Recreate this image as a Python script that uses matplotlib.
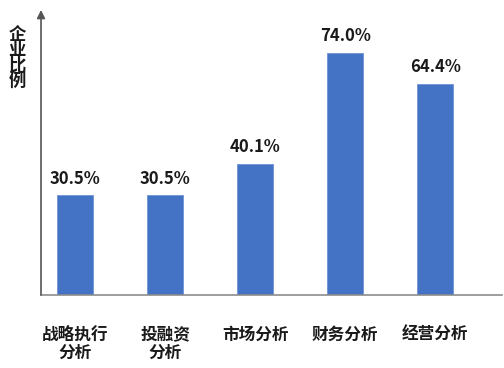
import numpy as np
import matplotlib.pyplot as plt

plt.rcParams['font.family'] = ['Noto Sans CJK SC', 'DejaVu Sans']

categories = ['战略执行\n分析', '投融资\n分析', '市场分析', '财务分析', '经营分析']
values = [30.5, 30.5, 40.1, 74.0, 64.4]
ylabel_text = '企\n业\n比\n例'

fig = plt.figure(figsize=(5.04, 3.68), dpi=100)
ax = fig.add_axes([41 / 504, 73 / 368, 461 / 504, 285 / 368])

x = np.arange(len(categories))
ax.bar(x, values, width=0.4, color='#4472C4', edgecolor='#6f93d6', linewidth=0.6)

for xi, v in zip(x, values):
    ax.text(xi, v + 2.3, '%.1f%%' % v, ha='center', va='bottom',
            fontsize=12, fontweight='heavy', color='#1a1a1a')

ax.set_xlim(-0.378, 4.74)
ax.set_ylim(0, 87)

for s in ['top', 'right', 'left']:
    ax.spines[s].set_visible(False)
ax.spines['bottom'].set_color('#8c8c8c')
ax.spines['bottom'].set_linewidth(1.2)

# y axis with arrow
ax.annotate('', xy=(0, 1.0), xycoords='axes fraction', xytext=(0, 0),
            arrowprops=dict(arrowstyle='-|>', color='#555555', lw=1.2,
                            mutation_scale=12, shrinkA=0, shrinkB=0))

ax.set_yticks([])
ax.set_xticks(x)
ax.set_xticklabels(categories, fontsize=12, fontweight='heavy', linespacing=1.05,
                   color='#1a1a1a')
ax.tick_params(axis='x', length=0, pad=22)

fig.text(17 / 504, 1 - 58 / 368, ylabel_text, ha='center', va='center',
         fontsize=12.5, fontweight='heavy', linespacing=0.82, color='#1a1a1a')

fig.savefig('out.png', dpi=100)
